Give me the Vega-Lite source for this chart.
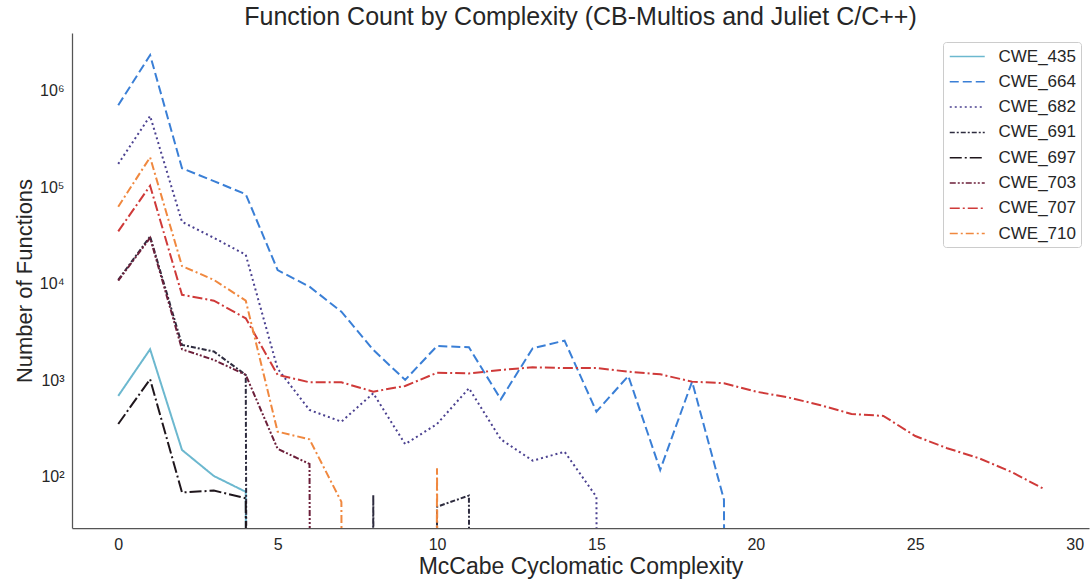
{
  "$schema": "https://vega.github.io/schema/vega-lite/v6.json",
  "width": 1017,
  "height": 495,
  "autosize": {"type": "none"},
  "padding": {"left": 72, "top": 33, "right": 1, "bottom": 52},
  "title": {"text": "Function Count by Complexity (CB-Multios and Juliet C/C++)", "fontSize": 25, "font": "Liberation Sans", "fontWeight": "normal", "color": "#262626", "anchor": "middle", "offset": 3},
  "config": {"view": {"stroke": null}, "font": "Liberation Sans"},
  "data": {"values": [
    {"cwe": "CWE_435", "complexity": 0, "functions": 690},
    {"cwe": "CWE_435", "complexity": 1, "functions": 2100},
    {"cwe": "CWE_435", "complexity": 2, "functions": 190},
    {"cwe": "CWE_435", "complexity": 3, "functions": 102},
    {"cwe": "CWE_435", "complexity": 4, "functions": 70},
    {"cwe": "CWE_435", "complexity": 5, "functions": 1e-100},
    {"cwe": "CWE_664", "complexity": 0, "functions": 710000},
    {"cwe": "CWE_664", "complexity": 1, "functions": 2350000},
    {"cwe": "CWE_664", "complexity": 2, "functions": 158000},
    {"cwe": "CWE_664", "complexity": 3, "functions": 116000},
    {"cwe": "CWE_664", "complexity": 4, "functions": 85000},
    {"cwe": "CWE_664", "complexity": 5, "functions": 13900},
    {"cwe": "CWE_664", "complexity": 6, "functions": 9350},
    {"cwe": "CWE_664", "complexity": 7, "functions": 5150},
    {"cwe": "CWE_664", "complexity": 8, "functions": 2070},
    {"cwe": "CWE_664", "complexity": 9, "functions": 1010},
    {"cwe": "CWE_664", "complexity": 10, "functions": 2270},
    {"cwe": "CWE_664", "complexity": 11, "functions": 2200},
    {"cwe": "CWE_664", "complexity": 12, "functions": 637},
    {"cwe": "CWE_664", "complexity": 13, "functions": 2150},
    {"cwe": "CWE_664", "complexity": 14, "functions": 2580},
    {"cwe": "CWE_664", "complexity": 15, "functions": 474},
    {"cwe": "CWE_664", "complexity": 16, "functions": 1110},
    {"cwe": "CWE_664", "complexity": 17, "functions": 118},
    {"cwe": "CWE_664", "complexity": 18, "functions": 970},
    {"cwe": "CWE_664", "complexity": 19, "functions": 58},
    {"cwe": "CWE_664", "complexity": 20, "functions": 1e-100},
    {"cwe": "CWE_682", "complexity": 0, "functions": 175000},
    {"cwe": "CWE_682", "complexity": 1, "functions": 550000},
    {"cwe": "CWE_682", "complexity": 2, "functions": 44000},
    {"cwe": "CWE_682", "complexity": 3, "functions": 30000},
    {"cwe": "CWE_682", "complexity": 4, "functions": 20000},
    {"cwe": "CWE_682", "complexity": 5, "functions": 1320},
    {"cwe": "CWE_682", "complexity": 6, "functions": 493},
    {"cwe": "CWE_682", "complexity": 7, "functions": 373},
    {"cwe": "CWE_682", "complexity": 8, "functions": 735},
    {"cwe": "CWE_682", "complexity": 9, "functions": 218},
    {"cwe": "CWE_682", "complexity": 10, "functions": 353},
    {"cwe": "CWE_682", "complexity": 11, "functions": 828},
    {"cwe": "CWE_682", "complexity": 12, "functions": 245},
    {"cwe": "CWE_682", "complexity": 13, "functions": 147},
    {"cwe": "CWE_682", "complexity": 14, "functions": 182},
    {"cwe": "CWE_682", "complexity": 15, "functions": 62},
    {"cwe": "CWE_682", "complexity": 16, "functions": 1e-100},
    {"cwe": "CWE_691", "complexity": 0, "functions": 11000},
    {"cwe": "CWE_691", "complexity": 1, "functions": 31000},
    {"cwe": "CWE_691", "complexity": 2, "functions": 2330},
    {"cwe": "CWE_691", "complexity": 3, "functions": 1990},
    {"cwe": "CWE_691", "complexity": 4, "functions": 1140},
    {"cwe": "CWE_691", "complexity": 5, "functions": 1e-100},
    {"cwe": "CWE_691", "complexity": 6, "functions": 1e-100},
    {"cwe": "CWE_691", "complexity": 7, "functions": 1e-100},
    {"cwe": "CWE_691", "complexity": 8, "functions": 65},
    {"cwe": "CWE_691", "complexity": 9, "functions": 1e-100},
    {"cwe": "CWE_691", "complexity": 10, "functions": 49},
    {"cwe": "CWE_691", "complexity": 11, "functions": 64},
    {"cwe": "CWE_691", "complexity": 12, "functions": 1e-100},
    {"cwe": "CWE_697", "complexity": 0, "functions": 353},
    {"cwe": "CWE_697", "complexity": 1, "functions": 1026},
    {"cwe": "CWE_697", "complexity": 2, "functions": 69},
    {"cwe": "CWE_697", "complexity": 3, "functions": 72},
    {"cwe": "CWE_697", "complexity": 4, "functions": 60},
    {"cwe": "CWE_697", "complexity": 5, "functions": 1e-100},
    {"cwe": "CWE_703", "complexity": 0, "functions": 10800},
    {"cwe": "CWE_703", "complexity": 1, "functions": 30000},
    {"cwe": "CWE_703", "complexity": 2, "functions": 2100},
    {"cwe": "CWE_703", "complexity": 3, "functions": 1630},
    {"cwe": "CWE_703", "complexity": 4, "functions": 1140},
    {"cwe": "CWE_703", "complexity": 5, "functions": 195},
    {"cwe": "CWE_703", "complexity": 6, "functions": 136},
    {"cwe": "CWE_703", "complexity": 7, "functions": 1e-100},
    {"cwe": "CWE_707", "complexity": 0, "functions": 35000},
    {"cwe": "CWE_707", "complexity": 1, "functions": 104000},
    {"cwe": "CWE_707", "complexity": 2, "functions": 7700},
    {"cwe": "CWE_707", "complexity": 3, "functions": 6700},
    {"cwe": "CWE_707", "complexity": 4, "functions": 4400},
    {"cwe": "CWE_707", "complexity": 5, "functions": 1140},
    {"cwe": "CWE_707", "complexity": 6, "functions": 955},
    {"cwe": "CWE_707", "complexity": 7, "functions": 955},
    {"cwe": "CWE_707", "complexity": 8, "functions": 764},
    {"cwe": "CWE_707", "complexity": 9, "functions": 875},
    {"cwe": "CWE_707", "complexity": 10, "functions": 1200},
    {"cwe": "CWE_707", "complexity": 11, "functions": 1180},
    {"cwe": "CWE_707", "complexity": 12, "functions": 1280},
    {"cwe": "CWE_707", "complexity": 13, "functions": 1365},
    {"cwe": "CWE_707", "complexity": 14, "functions": 1340},
    {"cwe": "CWE_707", "complexity": 15, "functions": 1340},
    {"cwe": "CWE_707", "complexity": 16, "functions": 1230},
    {"cwe": "CWE_707", "complexity": 17, "functions": 1155},
    {"cwe": "CWE_707", "complexity": 18, "functions": 970},
    {"cwe": "CWE_707", "complexity": 19, "functions": 933},
    {"cwe": "CWE_707", "complexity": 20, "functions": 764},
    {"cwe": "CWE_707", "complexity": 21, "functions": 667},
    {"cwe": "CWE_707", "complexity": 22, "functions": 556},
    {"cwe": "CWE_707", "complexity": 23, "functions": 449},
    {"cwe": "CWE_707", "complexity": 24, "functions": 428},
    {"cwe": "CWE_707", "complexity": 25, "functions": 265},
    {"cwe": "CWE_707", "complexity": 26, "functions": 198},
    {"cwe": "CWE_707", "complexity": 27, "functions": 156},
    {"cwe": "CWE_707", "complexity": 28, "functions": 113},
    {"cwe": "CWE_707", "complexity": 29, "functions": 76},
    {"cwe": "CWE_710", "complexity": 0, "functions": 63000},
    {"cwe": "CWE_710", "complexity": 1, "functions": 205000},
    {"cwe": "CWE_710", "complexity": 2, "functions": 15300},
    {"cwe": "CWE_710", "complexity": 3, "functions": 11000},
    {"cwe": "CWE_710", "complexity": 4, "functions": 6700},
    {"cwe": "CWE_710", "complexity": 5, "functions": 294},
    {"cwe": "CWE_710", "complexity": 6, "functions": 245},
    {"cwe": "CWE_710", "complexity": 7, "functions": 55},
    {"cwe": "CWE_710", "complexity": 8, "functions": 1e-100},
    {"cwe": "CWE_710", "complexity": 9, "functions": 1e-100},
    {"cwe": "CWE_710", "complexity": 10, "functions": 123},
    {"cwe": "CWE_710", "complexity": 11, "functions": 1e-100}
  ]},
  "mark": {"type": "line", "clip": true, "strokeWidth": 2},
  "encoding": {
    "x": {
      "field": "complexity", "type": "quantitative",
      "scale": {"domain": [-1.45, 30.45], "nice": false, "zero": false},
      "axis": {"values": [0, 5, 10, 15, 20, 25, 30], "ticks": false, "grid": false, "domainColor": "#555555", "domainWidth": 1.25, "labelFontSize": 16, "labelColor": "#262626", "labelPadding": 8, "labelFont": "Liberation Sans", "title": "McCabe Cyclomatic Complexity", "titleFontSize": 23, "titleFontWeight": "normal", "titleColor": "#262626", "titlePadding": 3, "titleFont": "Liberation Sans"}
    },
    "y": {
      "field": "functions", "type": "quantitative",
      "scale": {"type": "log", "domain": [29.5, 3980000], "nice": false},
      "axis": {"values": [100, 1000, 10000, 100000, 1000000], "ticks": false, "grid": false, "domainColor": "#555555", "domainWidth": 1.25, "labelFontSize": 16, "labelColor": "#262626", "labelPadding": 8, "labelFont": "Liberation Sans",
        "labelExpr": "datum.value == 1000000 ? '10⁶' : datum.value == 100000 ? '10⁵' : datum.value == 10000 ? '10⁴' : datum.value == 1000 ? '10³' : '10²'",
        "title": "Number of Functions", "titleFontSize": 22, "titleFontWeight": "normal", "titleColor": "#262626", "titlePadding": 3, "titleFont": "Liberation Sans"}
    },
    "color": {
      "field": "cwe", "type": "nominal",
      "scale": {"domain": ["CWE_435", "CWE_664", "CWE_682", "CWE_691", "CWE_697", "CWE_703", "CWE_707", "CWE_710"],
                "range": ["#6cb8cf", "#3a7fd6", "#4b4190", "#2e2c3f", "#1f161c", "#6c1f3a", "#cf3a39", "#f0883f"]},
      "legend": {"orient": "none", "legendX": 871, "legendY": 9, "title": null, "padding": 5, "strokeColor": "#cccccc", "fillColor": "#ffffff", "cornerRadius": 3, "labelFontSize": 17, "labelColor": "#262626", "labelFont": "Liberation Sans", "symbolType": "M-2,0H2", "symbolSize": 306, "symbolStrokeWidth": 1.5, "rowPadding": 7.3, "symbolOffset": 9.75, "labelOffset": 21.75}
    },
    "strokeDash": {
      "field": "cwe", "type": "nominal",
      "scale": {"domain": ["CWE_435", "CWE_664", "CWE_682", "CWE_691", "CWE_697", "CWE_703", "CWE_707", "CWE_710"],
                "range": [[1, 0], [9, 4], [2, 3], [5, 2, 2, 2], [12, 3, 2, 3], [6, 2, 2, 2, 2, 2], [10, 3, 2, 3], [8, 3, 2, 3]]}
    }
  }
}
